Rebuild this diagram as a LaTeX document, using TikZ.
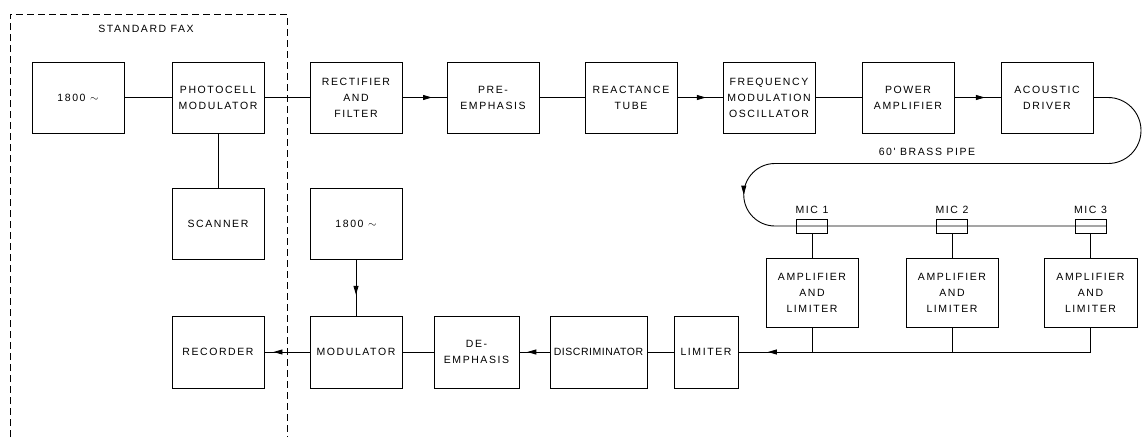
\documentclass[tikz,border=0pt]{standalone}
\usepackage{fontspec}
\newfontfamily\lettering{Liberation Sans}[LetterSpace=15]
\usetikzlibrary{arrows.meta,decorations.markings}

\begin{document}
\begin{tikzpicture}[x=1pt, y=1pt, line width=0.9pt,
	every node/.style={font={\lettering\fontsize{10.5}{16}\selectfont}, align=center, inner sep=0pt},
	blk/.style={draw, minimum width=92pt, minimum height=71pt},
	mic/.style={draw, minimum width=31pt, minimum height=14pt},
	fax/.style={dash pattern=on 7pt off 4pt, line width=0.7pt},
	midarrow/.style={postaction={decorate}, decoration={markings,
		mark=at position #1 with {\arrow{Triangle[length=9pt,width=5pt]}}}},
	midarrow/.default=0.66]
	\useasboundingbox (0,0) rectangle (1143,-437);
	% transmitter chain
	\node[blk] (osc1) at (78,-97.5) {1800 $\sim$};
	\node[blk] (photo) at (218,-97.5) {PHOTOCELL\\MODULATOR};
	\node[blk] (rect) at (356,-97.5) {RECTIFIER\\AND\\FILTER};
	\node[blk] (pre) at (493,-97.5) {PRE-\\EMPHASIS};
	\node[blk] (react) at (631,-97.5) {REACTANCE\\TUBE};
	\node[blk] (fmo) at (769,-97.5) {FREQUENCY\\MODULATION\\OSCILLATOR};
	\node[blk] (pamp) at (908,-97.5) {POWER\\AMPLIFIER};
	\node[blk] (drv) at (1047,-97.5) {ACOUSTIC\\DRIVER};
	\node[blk] (scan) at (218,-223.5) {SCANNER};
	\node[blk] (osc2) at (356,-223.5) {1800 $\sim$};
	% receiver chain
	\node[blk, minimum height=72pt] (rec) at (218,-352) {RECORDER};
	\node[blk, minimum height=72pt] (mod) at (356,-352) {MODULATOR};
	\node[blk, minimum height=72pt, minimum width=85pt] (deem) at (476.5,-352) {DE-\\EMPHASIS};
	\node[blk, minimum height=72pt, minimum width=97pt] (disc) at (598.5,-352) {\addfontfeature{LetterSpace=5}DISCRIMINATOR};
	\node[blk, minimum height=72pt, minimum width=64pt] (lim) at (706,-352) {LIMITER};
	\node[blk, minimum height=69pt] (amp1) at (812,-292.5) {AMPLIFIER\\AND\\LIMITER};
	\node[blk, minimum height=69pt] (amp2) at (952,-292.5) {AMPLIFIER\\AND\\LIMITER};
	\node[blk, minimum height=69pt, minimum width=93pt] (amp3) at (1090.5,-292.5) {AMPLIFIER\\AND\\LIMITER};
	% microphones on the pipe
	\node[mic] (mic1) at (812,-226) {};
	\node[mic] (mic2) at (952,-226) {};
	\node[mic] (mic3) at (1090.5,-226) {};
	\node (mic1lbl) at (812,-209.5) {MIC 1};
	\node (mic2lbl) at (952,-209.5) {MIC 2};
	\node (mic3lbl) at (1090.5,-209.5) {MIC 3};
	\node (faxlbl) at (146,-29) {STANDARD FAX};
	\node (pipelbl) at (927,-152) {60' BRASS PIPE};

	\draw[fax] (10,-437) -- (10,-14) -- (287,-14) -- (287,-437);

	\draw (osc1) -- (photo);
	\draw (photo) -- (rect);
	\draw[midarrow=0.67] (rect) -- (pre);
	\draw (pre) -- (react);
	\draw[midarrow=0.63] (react) -- (fmo);
	\draw (fmo) -- (pamp);
	\draw[midarrow] (pamp) -- (drv);
	\draw (photo) -- (scan);
	\draw[midarrow=0.63] (osc2) -- (mod);

	% the brass pipe
	\draw (drv.east) -- (1108,-97.5) arc[start angle=90, end angle=-90, radius=33]
		-- (775,-163.5) coordinate (bend);
	\draw[midarrow=49pt] (bend) arc[start angle=90, end angle=270, radius=31.25] -- (mic3.east);
	\foreach \i in {1,2,3}
		\draw (mic\i.south) -- (amp\i.north);

	% combining bus
	\draw (amp3.south) |- (amp1.south |- lim.east);
	\draw (amp2.south) -- (amp2.south |- lim.east);
	\draw[midarrow=0.7] (amp1.south) |- (lim.east);
	\draw (lim) -- (disc);
	\draw[midarrow=0.74] (disc) -- (deem);
	\draw (deem) -- (mod);
	\draw[midarrow=0.8] (mod) -- (rec);
\end{tikzpicture}
\end{document}
